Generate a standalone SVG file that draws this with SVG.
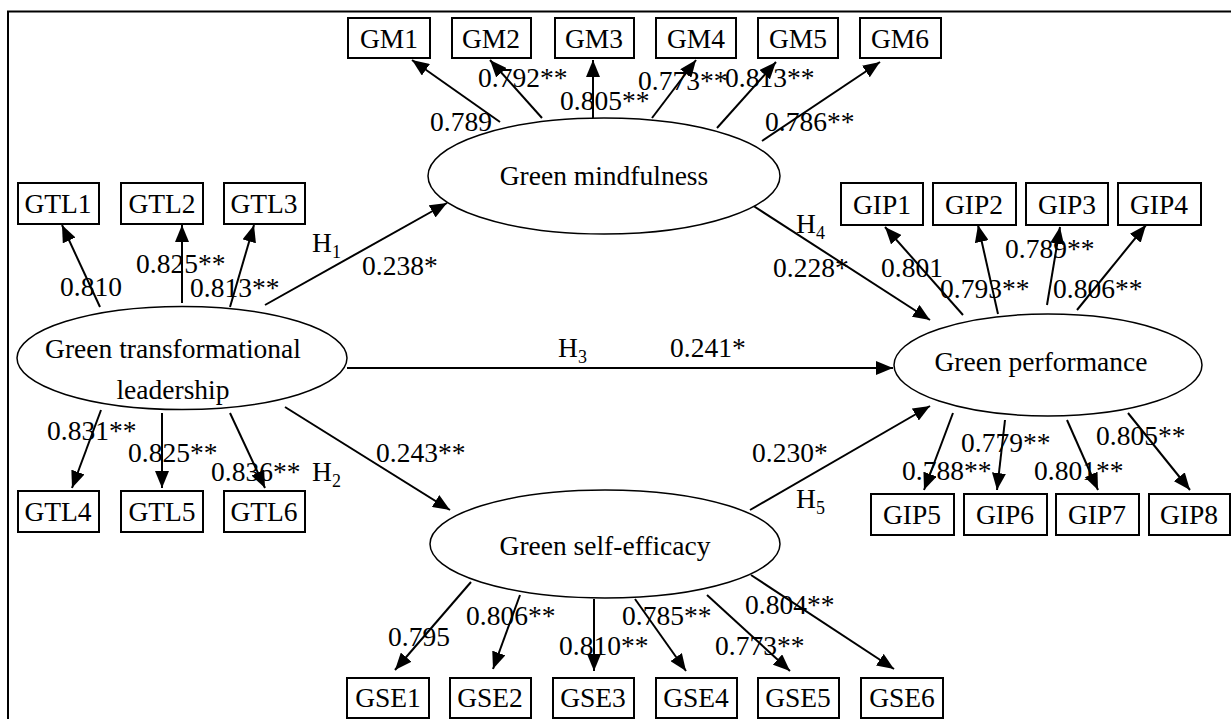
<svg xmlns="http://www.w3.org/2000/svg" width="1231" height="719" viewBox="0 0 1231 719" font-family="'Liberation Serif','Times New Roman',serif">
<defs>
<marker id="ah" markerUnits="userSpaceOnUse" markerWidth="18" markerHeight="14" refX="17" refY="7" orient="auto">
<path d="M0,0 L17,7 L0,14 Z" fill="#000"/>
</marker>
<style>
text{font-family:"Liberation Serif","Times New Roman",serif;font-size:27.5px;fill:#000}
.b rect{fill:#fff;stroke:#000;stroke-width:2}
.b text{text-anchor:middle}
.e ellipse{fill:#fff;stroke:#000;stroke-width:1.5}
.e text{text-anchor:middle}
#conn line{stroke:#000;stroke-width:2;marker-end:url(#ah)}
.sub{font-size:18px}
</style>
</defs>
<rect width="1231" height="719" fill="#fff"/>
<path d="M8,719 V11.5 H1231" fill="none" stroke="#000" stroke-width="2"/>

<g id="conn">
<line x1="500" y1="122" x2="412" y2="60"/>
<line x1="542" y1="118" x2="490" y2="60"/>
<line x1="593" y1="118" x2="593" y2="60"/>
<line x1="652" y1="118" x2="696" y2="60"/>
<line x1="717" y1="128" x2="776" y2="62"/>
<line x1="762" y1="141" x2="880" y2="62"/>
<line x1="100" y1="307" x2="62" y2="225"/>
<line x1="182" y1="303" x2="182" y2="225"/>
<line x1="230" y1="307" x2="254" y2="225"/>
<line x1="101" y1="410" x2="72" y2="488"/>
<line x1="162" y1="413" x2="162" y2="488"/>
<line x1="230" y1="413" x2="265" y2="488"/>
<line x1="265" y1="305" x2="447" y2="203"/>
<line x1="285" y1="407" x2="450" y2="510"/>
<line x1="347" y1="368" x2="893" y2="368"/>
<line x1="752" y1="205" x2="930" y2="320"/>
<line x1="750" y1="510" x2="930" y2="406"/>
<line x1="963" y1="315" x2="885" y2="227"/>
<line x1="998" y1="314" x2="978" y2="225"/>
<line x1="1047" y1="305" x2="1060" y2="227"/>
<line x1="1077" y1="310" x2="1146" y2="225"/>
<line x1="953" y1="413" x2="924" y2="490"/>
<line x1="1005" y1="420" x2="997" y2="490"/>
<line x1="1067" y1="420" x2="1098" y2="490"/>
<line x1="1128" y1="413" x2="1190" y2="490"/>
<line x1="471" y1="582" x2="395" y2="670"/>
<line x1="520" y1="595" x2="493" y2="669"/>
<line x1="594" y1="599" x2="594" y2="671"/>
<line x1="635" y1="599" x2="686" y2="671"/>
<line x1="707" y1="595" x2="790" y2="671"/>
<line x1="751" y1="575" x2="894" y2="669"/>
</g>

<g id="gm" class="e"><ellipse cx="604" cy="176" rx="176" ry="58"/><text x="604" y="185">Green mindfulness</text></g>
<g id="gtl" class="e"><ellipse cx="182" cy="358" rx="165" ry="51.5"/><text x="173" y="358">Green transformational</text><text x="173" y="399">leadership</text></g>
<g id="gp" class="e"><ellipse cx="1048" cy="365" rx="154" ry="51"/><text x="1041" y="371">Green performance</text></g>
<g id="gse" class="e"><ellipse cx="605" cy="544" rx="175" ry="54"/><text x="605" y="555">Green self-efficacy</text></g>

<g id="GM1" class="b"><rect x="348" y="18" width="82" height="40"/><text x="389" y="48">GM1</text></g>
<g id="GM2" class="b"><rect x="452" y="18" width="79" height="40"/><text x="491" y="48">GM2</text></g>
<g id="GM3" class="b"><rect x="555" y="18" width="79" height="40"/><text x="594" y="48">GM3</text></g>
<g id="GM4" class="b"><rect x="656" y="18" width="80" height="40"/><text x="696" y="48">GM4</text></g>
<g id="GM5" class="b"><rect x="758" y="18" width="80" height="40"/><text x="798" y="48">GM5</text></g>
<g id="GM6" class="b"><rect x="860" y="18" width="81" height="40"/><text x="900" y="48">GM6</text></g>

<g id="GTL1" class="b"><rect x="18" y="183" width="81" height="41"/><text x="58" y="213">GTL1</text></g>
<g id="GTL2" class="b"><rect x="121" y="183" width="82" height="41"/><text x="162" y="213">GTL2</text></g>
<g id="GTL3" class="b"><rect x="224" y="183" width="81" height="41"/><text x="264" y="213">GTL3</text></g>
<g id="GTL4" class="b"><rect x="18" y="491" width="81" height="41"/><text x="58" y="521">GTL4</text></g>
<g id="GTL5" class="b"><rect x="121" y="491" width="82" height="41"/><text x="162" y="521">GTL5</text></g>
<g id="GTL6" class="b"><rect x="224" y="491" width="81" height="41"/><text x="264" y="521">GTL6</text></g>

<g id="GIP1" class="b"><rect x="841" y="183" width="82" height="42"/><text x="882" y="214">GIP1</text></g>
<g id="GIP2" class="b"><rect x="933" y="183" width="83" height="42"/><text x="974" y="214">GIP2</text></g>
<g id="GIP3" class="b"><rect x="1026" y="183" width="82" height="42"/><text x="1067" y="214">GIP3</text></g>
<g id="GIP4" class="b"><rect x="1118" y="183" width="83" height="42"/><text x="1159" y="214">GIP4</text></g>
<g id="GIP5" class="b"><rect x="871" y="494" width="83" height="41"/><text x="912" y="524">GIP5</text></g>
<g id="GIP6" class="b"><rect x="964" y="494" width="83" height="41"/><text x="1005" y="524">GIP6</text></g>
<g id="GIP7" class="b"><rect x="1056" y="494" width="83" height="41"/><text x="1097" y="524">GIP7</text></g>
<g id="GIP8" class="b"><rect x="1149" y="494" width="81" height="41"/><text x="1189" y="524">GIP8</text></g>

<g id="GSE1" class="b"><rect x="347" y="678" width="82" height="40"/><text x="388" y="707">GSE1</text></g>
<g id="GSE2" class="b"><rect x="450" y="678" width="81" height="40"/><text x="490" y="707">GSE2</text></g>
<g id="GSE3" class="b"><rect x="553" y="678" width="81" height="40"/><text x="593" y="707">GSE3</text></g>
<g id="GSE4" class="b"><rect x="656" y="678" width="81" height="40"/><text x="696" y="707">GSE4</text></g>
<g id="GSE5" class="b"><rect x="758" y="678" width="81" height="40"/><text x="798" y="707">GSE5</text></g>
<g id="GSE6" class="b"><rect x="861" y="678" width="82" height="40"/><text x="902" y="707">GSE6</text></g>

<g id="labels">
<text x="430" y="131">0.789</text>
<text x="478" y="87">0.792**</text>
<text x="560" y="110">0.805**</text>
<text x="638" y="90">0.773**</text>
<text x="725" y="87">0.813**</text>
<text x="765" y="131">0.786**</text>
<text x="60" y="296">0.810</text>
<text x="136" y="273">0.825**</text>
<text x="190" y="297">0.813**</text>
<text x="47" y="440">0.831**</text>
<text x="128" y="462">0.825**</text>
<text x="211" y="481">0.836**</text>
<text x="312" y="481">H<tspan class="sub" dy="6">2</tspan></text>
<text x="312" y="252">H<tspan class="sub" dy="6">1</tspan></text>
<text x="362" y="275">0.238*</text>
<text x="376" y="462">0.243**</text>
<text x="558" y="357">H<tspan class="sub" dy="6">3</tspan></text>
<text x="670" y="357">0.241*</text>
<text x="796" y="233">H<tspan class="sub" dy="6">4</tspan></text>
<text x="773" y="277">0.228*</text>
<text x="752" y="462">0.230*</text>
<text x="796" y="508">H<tspan class="sub" dy="6">5</tspan></text>
<text x="881" y="277">0.801</text>
<text x="940" y="298">0.793**</text>
<text x="1005" y="258">0.789**</text>
<text x="1053" y="298">0.806**</text>
<text x="902" y="480">0.788**</text>
<text x="961" y="452">0.779**</text>
<text x="1034" y="480">0.801**</text>
<text x="1096" y="445">0.805**</text>
<text x="388" y="646">0.795</text>
<text x="466" y="625">0.806**</text>
<text x="559" y="655">0.810**</text>
<text x="622" y="625">0.785**</text>
<text x="715" y="655">0.773**</text>
<text x="745" y="614">0.804**</text>
</g>
</svg>
